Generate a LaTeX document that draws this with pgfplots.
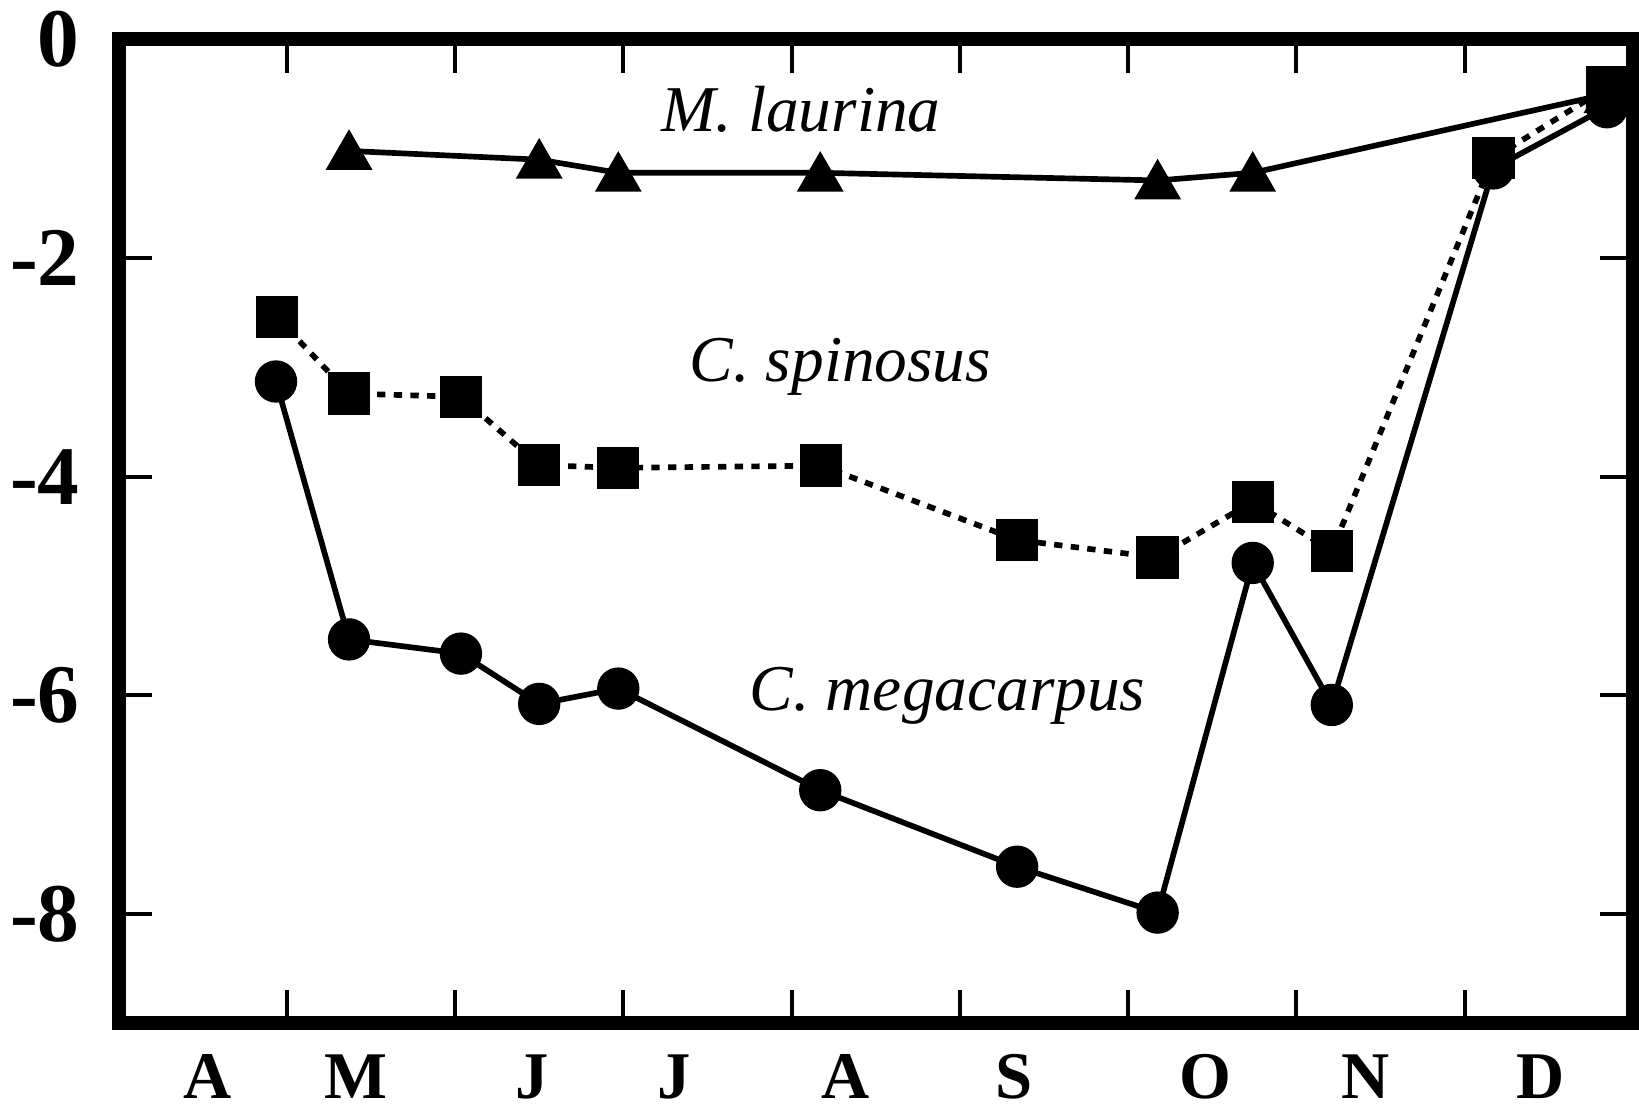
\documentclass[border=0pt]{standalone}
\usepackage{fontspec}
\setmainfont{Liberation Serif}
\usepackage{pgfplots}
\pgfplotsset{compat=1.18}
\begin{document}
\begin{tikzpicture}
\begin{axis}[
  scale only axis,
  width=454.35pt, height=295.05pt,
  xmin=0, xmax=9, ymin=-9, ymax=0,
  axis line style={line width=4.2pt, line join=miter},
  tick align=inside,
  tick pos=both,
  major tick length=10pt,
  every tick/.style={black, line width=1.2pt},
  xtick={1,2,3,4,5,6,7,8},
  xticklabels={},
  extra x ticks={0.53,1.41,2.46,3.30,4.32,5.32,6.46,7.41,8.45},
  extra x tick labels={A,M,J,J,A,S,O,N,D},
  extra x tick style={major tick length=0pt, tick style={draw=none}},
  xticklabel style={anchor=north, inner sep=0pt, yshift=-9.3pt, font=\bfseries\fontsize{20}{20}\selectfont},
  ytick={-8,-6,-4,-2,0},
  yticklabels={-8,-6,-4,-2,0},
  yticklabel style={anchor=east, inner sep=0pt, xshift=-11.5pt, font=\bfseries\fontsize{25}{25}\selectfont},
  clip=false,
]
\addplot[black, line width=1.7pt, dash pattern=on 2.5pt off 2.5pt, mark=square*, mark size=5.5pt, mark options={solid}] coordinates {
(0.94,-2.54) (1.37,-3.24) (2.035,-3.27) (2.50,-3.895) (2.97,-3.92) (4.175,-3.90)
(5.34,-4.58) (6.175,-4.74) (6.74,-4.23) (7.21,-4.68) (8.17,-1.085) (8.845,-0.44)};
\addplot[black, line width=1.7pt, mark=*, mark size=5.5pt] coordinates {
(0.936,-3.13) (1.37,-5.49) (2.035,-5.62) (2.50,-6.08) (2.97,-5.94) (4.17,-6.87)
(5.34,-7.57) (6.175,-7.99) (6.74,-4.79) (7.21,-6.09) (8.17,-1.18) (8.845,-0.62)};
\addplot[black, line width=1.7pt, mark=triangle*, mark size=6.4pt, mark options={yshift=-1.6pt}] coordinates {
(1.37,-1.02) (2.50,-1.10) (2.97,-1.22) (4.17,-1.22) (6.175,-1.29) (6.74,-1.22) (8.845,-0.50)};
\node[anchor=base, inner sep=0pt, font=\itshape\fontsize{19.6}{20}\selectfont] at (axis cs:4.055,-0.84) {M. laurina};
\node[anchor=base, inner sep=0pt, font=\itshape\fontsize{19.6}{20}\selectfont] at (axis cs:4.29,-3.13) {C. spinosus};
\node[anchor=base, inner sep=0pt, font=\itshape\fontsize{19.6}{20}\selectfont] at (axis cs:4.926,-6.14) {C. megacarpus};
\coordinate (SW) at (rel axis cs:0,0);
\coordinate (NE) at (rel axis cs:1,1);
\end{axis}
\pgfresetboundingbox
\path[use as bounding box] ([shift={(-35.55pt,-25.8pt)}]SW) rectangle ([shift={(1.8pt,11.85pt)}]NE);
\end{tikzpicture}
\end{document}
